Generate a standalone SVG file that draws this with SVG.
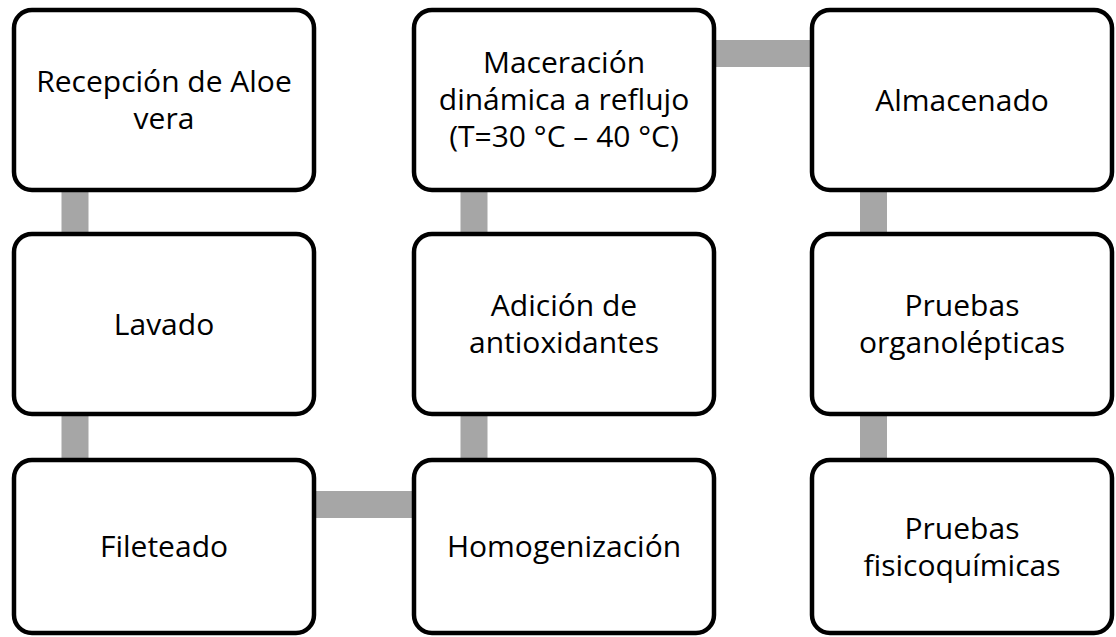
<svg xmlns="http://www.w3.org/2000/svg" width="1116" height="637" viewBox="0 0 1116 637">
<style>
.box{fill:#fff;stroke:#000;stroke-width:4.5}
.conn{stroke:#A6A6A6;stroke-width:27;fill:none}
text{font-family:"Open Sans","Liberation Sans",sans-serif;font-size:30px;fill:#000;text-anchor:middle}
</style>
<rect width="1116" height="637" fill="#fff"/>
<g id="connectors">
<line class="conn" x1="75" y1="190" x2="75" y2="234"/>
<line class="conn" x1="75" y1="414" x2="75" y2="460"/>
<line class="conn" x1="314" y1="504.5" x2="414" y2="504.5"/>
<line class="conn" x1="474" y1="460" x2="474" y2="414"/>
<line class="conn" x1="474" y1="234" x2="474" y2="190"/>
<line class="conn" x1="714" y1="53.5" x2="812" y2="53.5"/>
<line class="conn" x1="873.5" y1="190" x2="873.5" y2="234"/>
<line class="conn" x1="873.5" y1="414" x2="873.5" y2="460"/>
</g>
<g id="n1"><rect class="box" x="14" y="10" width="300" height="180" rx="18"/><text x="164" y="92">Recepción de Aloe</text><text x="164" y="129">vera</text></g>
<g id="n2"><rect class="box" x="14" y="234" width="300" height="180" rx="18"/><text x="164" y="335">Lavado</text></g>
<g id="n3"><rect class="box" x="14" y="460" width="300" height="173" rx="18"/><text x="164" y="557">Fileteado</text></g>
<g id="n4"><rect class="box" x="414" y="460" width="300" height="173" rx="18"/><text x="564" y="557">Homogenización</text></g>
<g id="n5"><rect class="box" x="414" y="234" width="300" height="180" rx="18"/><text x="564" y="316">Adición de</text><text x="564" y="353">antioxidantes</text></g>
<g id="n6"><rect class="box" x="414" y="10" width="300" height="180" rx="18"/><text x="564" y="73">Maceración</text><text x="564" y="110">dinámica a reflujo</text><text x="564" y="147">(T=30 °C – 40 °C)</text></g>
<g id="n7"><rect class="box" x="812" y="10" width="300" height="180" rx="18"/><text x="962" y="111">Almacenado</text></g>
<g id="n8"><rect class="box" x="812" y="234" width="300" height="180" rx="18"/><text x="962" y="316">Pruebas</text><text x="962" y="353">organolépticas</text></g>
<g id="n9"><rect class="box" x="812" y="460" width="300" height="173" rx="18"/><text x="962" y="539">Pruebas</text><text x="962" y="576">fisicoquímicas</text></g>
</svg>
